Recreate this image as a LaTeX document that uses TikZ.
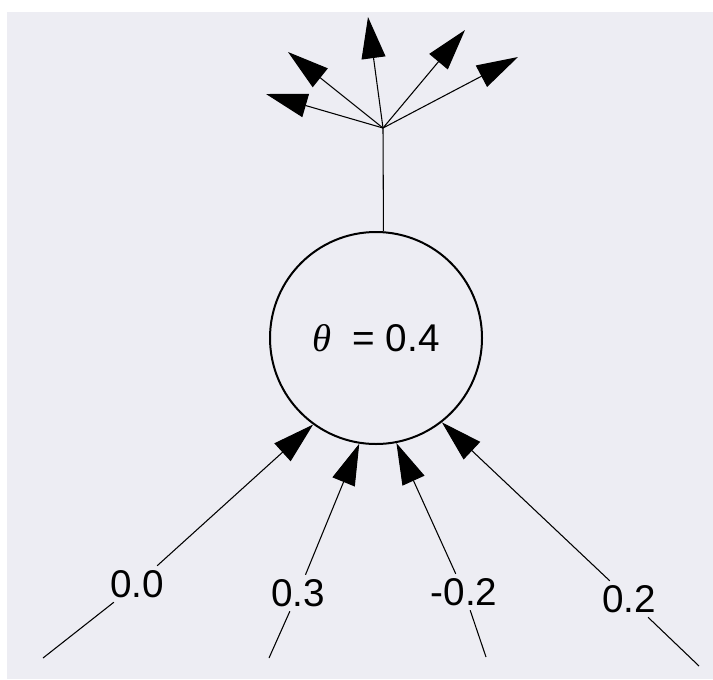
\documentclass[tikz,border=0pt]{standalone}
\usepackage{fontspec}
\setmainfont{Liberation Sans}
\newfontfamily\greekfont{Liberation Serif}
\usetikzlibrary{arrows.meta}
\definecolor{paper}{RGB}{237,237,243}
\begin{document}
\begin{tikzpicture}[x=0.75pt, y=-0.75pt, line width=0.8pt,
  every node/.style={font=\fontsize{29}{34}\selectfont},
  arr/.style={-{Triangle[length=31pt,width=18pt]}},
  wt/.style={inner sep=3pt}]
  \fill[paper] (7,12) rectangle (713,679);
  \useasboundingbox (0,0) rectangle (713,679);
  % the unit
  \node[circle, draw, line width=1.5pt, minimum size=159pt, inner sep=0pt]
    (unit) at (376,338) {{\greekfont\itshape θ}\ \ = 0.4};
  % output fan
  \coordinate (fan) at (383,128);
  \coordinate (o1) at (266,94);  \coordinate (o2) at (288,52);
  \coordinate (o3) at (368,17);  \coordinate (o4) at (465,30);
  \coordinate (o5) at (518,57);
  \draw (unit.86) -- (fan);
  \foreach \i in {1,...,5} \draw[arr] (fan) -- (o\i);
  % weighted inputs
  \node[wt] (w1) at (137,584) {0.0};
  \node[wt] (w2) at (298,593) {0.3};
  \node[wt] (w3) at (464,592) {-0.2};
  \node[wt] (w4) at (629,599) {0.2};
  \coordinate (x1) at (43,658);  \coordinate (x2) at (269,658);
  \coordinate (x3) at (486,657); \coordinate (x4) at (699,666);
  \foreach \i/\a in {1/234, 2/261, 3/281, 4/308} {
    \draw (x\i) -- (w\i);
    \draw[arr] (w\i) -- (unit.\a);
  }
\end{tikzpicture}
\end{document}
